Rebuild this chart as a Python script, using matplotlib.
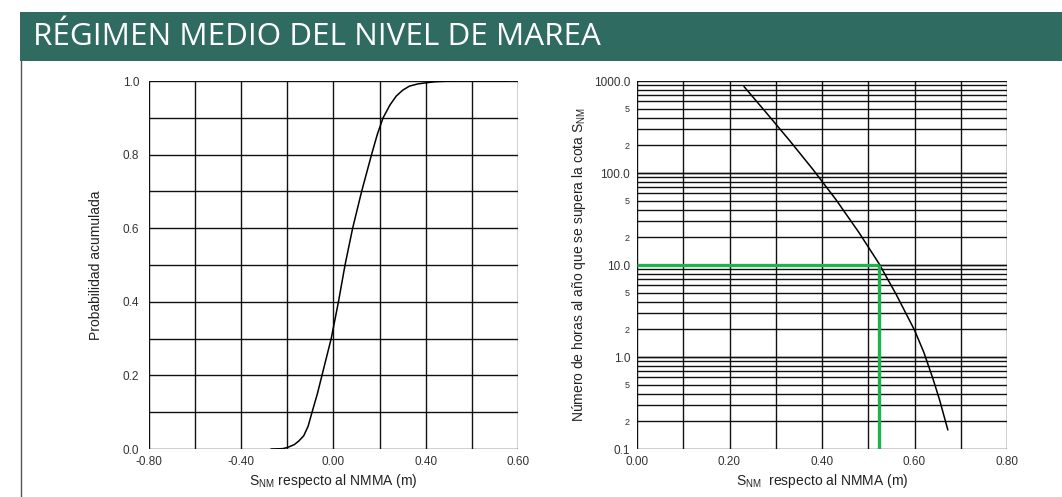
import matplotlib
matplotlib.use("Agg")
import matplotlib.pyplot as plt
from matplotlib.patches import Rectangle
from matplotlib.lines import Line2D
import numpy as np

# --- data -------------------------------------------------------------
title = "RÉGIMEN MEDIO DEL NIVEL DE MAREA"

# cumulative distribution of mean sea level
cdf_level = [-0.27, -0.22, -0.20, -0.17, -0.15, -0.129, -0.11, -0.093,
             -0.070, -0.050, -0.030, -0.010, 0.0215, 0.050, 0.083, 0.122,
             0.165, 0.190, 0.215, 0.245, 0.272, 0.300, 0.329, 0.365, 0.400,
             0.440, 0.474, 0.520, 0.750]
cdf_prob = [0.0, 0.001, 0.004, 0.012, 0.022, 0.036, 0.062, 0.10,
            0.15, 0.20, 0.25, 0.30, 0.40, 0.50, 0.60, 0.70,
            0.80, 0.855, 0.90, 0.935, 0.959, 0.975, 0.986, 0.992, 0.995,
            0.998, 0.999, 1.0, 1.0]

left_xticks = [-0.8, -0.4, 0.0, 0.4, 0.8]
left_xticklabels = ["-0.80", "-0.40", "0.00", "0.40", "0.60"]
left_yticks = [0.0, 0.2, 0.4, 0.6, 0.8, 1.0]
left_yticklabels = ["0.0", "0.2", "0.4", "0.6", "0.8", "1.0"]

# hours per year above a given level
exc_level = [0.2316, 0.280, 0.330, 0.380, 0.430, 0.480, 0.523, 0.560,
             0.600, 0.620, 0.640, 0.654, 0.672]
exc_hours = [867, 449, 225, 110, 51.5, 22.5, 10.4, 4.83,
             1.96, 1.13, 0.578, 0.345, 0.162]

right_xticks = [0.0, 0.2, 0.4, 0.6, 0.8]
right_xticklabels = ["0.00", "0.20", "0.40", "0.60", "0.80"]
right_major = [0.1, 1.0, 10.0, 100.0, 1000.0]
right_major_labels = ["0.1", "1.0", "10.0", "100.0", "1000.0"]

# design level read on the exceedance curve
design_level = 0.523
design_hours = 10.0

# --- figure -----------------------------------------------------------
W, H = 1062, 497
fig = plt.figure(figsize=(W / 100, H / 100), dpi=100)
fig.patch.set_facecolor("white")

teal = "#2f6b61"
fig.add_artist(Rectangle((20 / W, 1 - 61 / H), 1 - 20 / W, 49 / H,
                         transform=fig.transFigure, facecolor=teal,
                         edgecolor="none", zorder=0))
fig.add_artist(Line2D([20.5 / W, 20.5 / W], [0, 1 - 61 / H],
                      transform=fig.transFigure, color="#555555", lw=1.0))
fig.text(33 / W, 1 - 37 / H, title, color="white", fontsize=22.6,
         family=["Open Sans", "DejaVu Sans"], va="center", ha="left")

narrow = ["Liberation Sans Narrow", "Liberation Sans", "DejaVu Sans"]
tick_fs = 8.5
grid_kw = dict(color="#111111", lw=1.0)

# left panel
axL = fig.add_axes([149 / W, 1 - 449 / H, 369 / W, 368 / H])
axL.set_xlim(-0.8, 0.8)
axL.set_ylim(0.0, 1.0)
for v in np.arange(-0.8, 0.81, 0.2):
    axL.axvline(v, **grid_kw, zorder=1)
for v in np.arange(0.0, 1.01, 0.1):
    axL.axhline(v, **grid_kw, zorder=1)
axL.plot(cdf_level, cdf_prob, color="black", lw=1.1, zorder=3)
axL.set_xticks(left_xticks)
axL.set_xticklabels(left_xticklabels, family=narrow, fontsize=tick_fs, color="#333333")
axL.set_yticks(left_yticks)
axL.set_yticklabels(left_yticklabels, family=narrow, fontsize=tick_fs, color="#333333")
axL.tick_params(length=0, pad=7)
axL.tick_params(axis="x", pad=5)
axL.set_ylabel("Probabilidad acumulada", family=["Liberation Sans", "DejaVu Sans"],
               fontsize=10, labelpad=14, color="#222222")
axL.set_xlabel("S$_{\\mathregular{NM}}$ respecto al NMMA (m)",
               family=["Liberation Sans", "DejaVu Sans"], fontsize=10,
               labelpad=3, color="#222222")
for s in axL.spines.values():
    s.set_visible(False)

# right panel
axR = fig.add_axes([637 / W, 1 - 449 / H, 370 / W, 368 / H])
axR.set_yscale("log")
axR.set_xlim(0.0, 0.8)
axR.set_ylim(0.1, 1000.0)
for v in np.arange(0.0, 0.81, 0.1):
    axR.axvline(v, **grid_kw, zorder=1)
for dec in [0.1, 1.0, 10.0, 100.0]:
    for m in range(1, 11):
        axR.axhline(dec * m, **grid_kw, zorder=1)
axR.plot(exc_level, exc_hours, color="black", lw=1.1, zorder=3)

green = "#1fb34a"
axR.plot([0.0, design_level], [design_hours, design_hours], color=green,
         lw=2.4, zorder=4, solid_capstyle="butt")
axR.plot([design_level, design_level], [0.1, design_hours], color=green,
         lw=2.4, zorder=4, solid_capstyle="butt")

axR.set_xticks(right_xticks)
axR.set_xticklabels(right_xticklabels, family=narrow, fontsize=tick_fs, color="#333333")
axR.set_yticks(right_major)
axR.set_yticklabels(right_major_labels, family=narrow, fontsize=tick_fs, color="#333333")
minor_pos = []
minor_lab = []
for dec in [0.1, 1.0, 10.0, 100.0]:
    for m in [2, 5]:
        minor_pos.append(dec * m)
        minor_lab.append(str(m))
axR.set_yticks(minor_pos, minor=True)
axR.set_yticklabels(minor_lab, minor=True, family=narrow, fontsize=6.5, color="#333333")
axR.tick_params(which="both", length=0, pad=5)
axR.tick_params(axis="x", pad=5)
axR.set_ylabel("Número de horas al año que se supera la cota S$_{\\mathregular{NM}}$",
               family=["Liberation Sans", "DejaVu Sans"], fontsize=10,
               labelpad=4, color="#222222")
axR.set_xlabel("S$_{\\mathregular{NM}}$  respecto al NMMA (m)",
               family=["Liberation Sans", "DejaVu Sans"], fontsize=10,
               labelpad=3, color="#222222")
for s in axR.spines.values():
    s.set_visible(False)

fig.savefig("out.png", dpi=100, facecolor="white")
